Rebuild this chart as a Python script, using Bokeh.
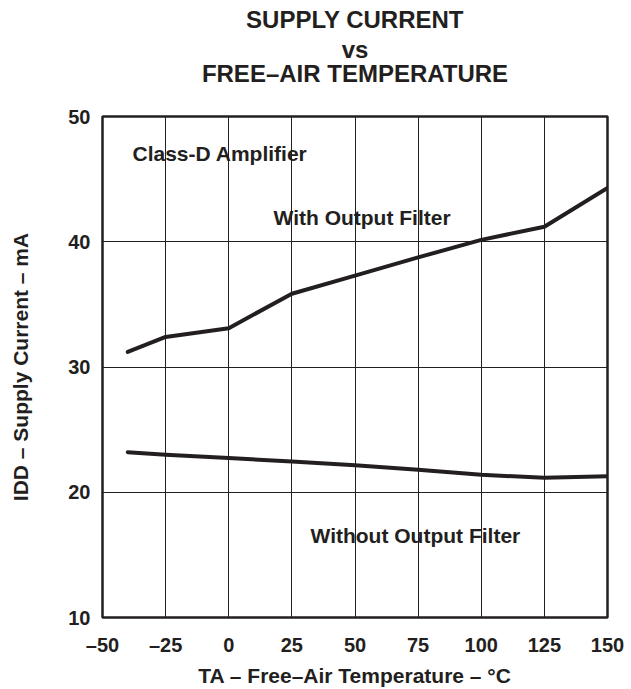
from bokeh.plotting import figure
from bokeh.models import Label, FixedTicker, Range1d, Title
from bokeh.embed import file_html
from bokeh.resources import INLINE

# ---- data ----
temperature = [-40, -25, 0, 25, 50, 75, 100, 125, 150]
with_filter = [31.2, 32.4, 33.1, 35.85, 37.3, 38.75, 40.15, 41.2, 44.3]
without_filter = [23.2, 23.0, 22.73, 22.46, 22.15, 21.8, 21.4, 21.15, 21.27]
x_ticks = [-50, -25, 0, 25, 50, 75, 100, 125, 150]
y_ticks = [10, 20, 30, 40, 50]
x_tick_labels = {-50: "\u201350", -25: "\u201325"}
title_lines = ["SUPPLY CURRENT", "vs", "FREE\u2013AIR TEMPERATURE"]
x_label = "TA \u2013 Free\u2013Air Temperature \u2013 \u00b0C"
y_label = "IDD \u2013 Supply Current \u2013 mA"

INK = "#231f20"
FONT = "Liberation Sans"

W, H = 631, 689
BL, BR, BT, BB = 102, 24, 118, 68

p = figure(width=W, height=H, x_range=Range1d(-50, 150), y_range=Range1d(10, 50),
           output_backend="svg", toolbar_location=None,
           min_border_left=BL, min_border_right=BR, min_border_top=0, min_border_bottom=BB)
p.background_fill_color = "white"
p.border_fill_color = "white"
p.outline_line_color = INK
p.outline_line_width = 2.5

for g, t in ((p.xgrid, x_ticks), (p.ygrid, y_ticks)):
    g.ticker = FixedTicker(ticks=t)
    g.grid_line_color = INK
    g.grid_line_width = 1
    g.grid_line_alpha = 1

p.xaxis.ticker = FixedTicker(ticks=x_ticks)
p.yaxis.ticker = FixedTicker(ticks=y_ticks)
p.xaxis.major_label_overrides = x_tick_labels
for ax in (p.xaxis, p.yaxis):
    ax.axis_line_color = None
    ax.major_tick_line_color = None
    ax.minor_tick_line_color = None
    ax.major_tick_in = 0
    ax.major_tick_out = 0
    ax.major_label_text_font = FONT
    ax.major_label_text_font_style = "bold"
    ax.major_label_text_font_size = "20px"
    ax.major_label_text_color = INK
    ax.axis_label_text_font = FONT
    ax.axis_label_text_font_style = "bold"
    ax.axis_label_text_color = INK
p.xaxis.major_label_standoff = 16
p.yaxis.major_label_standoff = 12
p.xaxis.axis_label = x_label
p.yaxis.axis_label = y_label
p.xaxis.axis_label_text_font_size = "21px"
p.yaxis.axis_label_text_font_size = "21px"
p.xaxis.axis_label_standoff = 5
p.yaxis.axis_label_standoff = 33

p.line(temperature, with_filter, line_width=4, line_color=INK, line_cap="round", line_join="round")
p.line(temperature, without_filter, line_width=4, line_color=INK, line_cap="round", line_join="round")

# title stack (added nearest-first): spacer, then the three title lines
for text, standoff, offset in ((" ", 2.8, 0), (title_lines[2], -5.2, 1),
                               (title_lines[1], -5.2, 4), (title_lines[0], 7.2, 4)):
    p.add_layout(Title(text=text, align="center", offset=offset, standoff=standoff,
                       text_font=FONT, text_font_style="bold", text_font_size="24px",
                       text_color=INK), "above")

# page-pixel -> data helpers for in-plot annotation placement
FL, FR, FT, FB = BL, W - BR, BT, H - BB
def dx(px):
    return -50 + (px - FL) * 200.0 / (FR - FL)
def dy(py):
    return 10 + (FB - py) * 40.0 / (FB - FT)

def lab(text, px, py, size):
    p.add_layout(Label(x=dx(px), y=dy(py), text=text, text_font=FONT, text_font_style="bold",
                       text_font_size=size, text_color=INK, text_align="left",
                       text_baseline="alphabetic"))

lab("Class-D Amplifier", 132, 155, "21px")
lab("With Output Filter", 273, 219, "21px")
lab("Without Output Filter", 310, 539, "21px")

open("out.html", "w").write(file_html(p, INLINE))
